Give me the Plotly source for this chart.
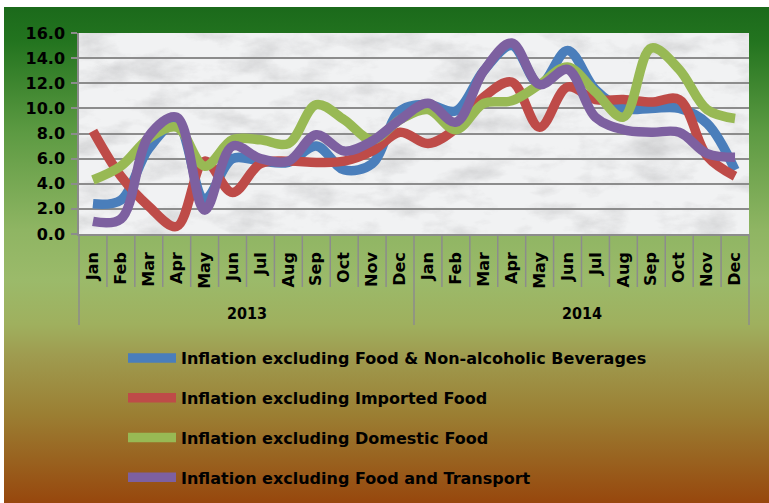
import base64
import plotly.graph_objects as go

# ---------------- data ----------------
months = ["Jan", "Feb", "Mar", "Apr", "May", "Jun", "Jul", "Aug", "Sep", "Oct", "Nov", "Dec"]
years = ["2013", "2014"]

excl_food_nonalc = [2.4, 2.7, 6.8, 8.8, 2.8, 6.0, 5.8, 5.7, 7.0, 5.1, 5.6, 9.8,
                    10.3, 9.8, 13.0, 15.0, 11.9, 14.6, 11.5, 10.0, 10.0, 10.0, 8.8, 5.1]
excl_imported = [8.2, 4.6, 2.2, 0.6, 5.8, 3.3, 5.6, 5.8, 5.7, 5.8, 6.6, 8.1,
                 7.2, 8.4, 10.9, 12.1, 8.5, 11.7, 10.7, 10.7, 10.5, 10.7, 6.2, 4.6]
excl_domestic = [4.3, 5.4, 7.6, 8.5, 5.4, 7.5, 7.5, 7.2, 10.3, 9.1, 7.5, 9.1,
                 9.9, 8.3, 10.4, 10.6, 11.9, 13.3, 11.3, 9.3, 14.8, 13.1, 9.9, 9.2]
excl_food_transport = [1.0, 1.2, 7.8, 9.3, 1.9, 7.0, 6.0, 5.8, 7.9, 6.6, 7.4, 9.1,
                       10.4, 8.9, 13.0, 15.2, 11.9, 13.1, 9.3, 8.3, 8.1, 8.1, 6.4, 6.1]

series_names = [
    "Inflation excluding Food & Non-alcoholic Beverages",
    "Inflation excluding Imported Food",
    "Inflation excluding Domestic Food",
    "Inflation excluding Food and Transport",
]
series_values = [excl_food_nonalc, excl_imported, excl_domestic, excl_food_transport]
series_colors = ["#4a7ebb", "#be4b48", "#98b954", "#7d60a0"]

categories = [f"{m} {y}" for y in years for m in months]
cat_labels = [m for y in years for m in months]

# ---------------- geometry ----------------
W, H = 769, 503
ML, MR, MT, MB = 79, 20, 33, 269
PW, PH = W - ML - MR, H - MT - MB


def py(pix_y):
    """pixel y (from top of figure) -> paper y"""
    return (MT + PH - pix_y) / PH


def px(pix_x):
    return (pix_x - ML) / PW


FONT = "DejaVu Sans"

fig = go.Figure()
for name, vals, col in zip(series_names, series_values, series_colors):
    fig.add_trace(go.Scatter(
        x=categories, y=vals, name=name, mode="lines",
        line=dict(color=col, width=9.5, shape="spline", smoothing=1.0),
        legendgroup=name,
    ))

# background gradient (figure) as svg image
stops = [
    (0.00, "#1b6a1b"), (0.07, "#23741f"), (0.25, "#5c9a42"), (0.45, "#8fb563"),
    (0.55, "#9bba6a"), (0.64, "#9fb05e"), (0.70, "#9f9c50"), (0.82, "#9b7f33"),
    (1.00, "#97470d"),
]
stop_xml = "".join(f'<stop offset="{o}" stop-color="{c}"/>' for o, c in stops)
grad_svg = (f'<svg xmlns="http://www.w3.org/2000/svg" width="765" height="496" preserveAspectRatio="none">'
            f'<defs><linearGradient id="g" x1="0" y1="0" x2="0" y2="1">{stop_xml}</linearGradient></defs>'
            f'<rect width="765" height="496" fill="url(#g)"/></svg>')
marble_svg = ('<svg xmlns="http://www.w3.org/2000/svg" width="670" height="201" preserveAspectRatio="none">'
              '<defs><filter id="f" x="0" y="0" width="100%" height="100%">'
              '<feTurbulence type="fractalNoise" baseFrequency="0.02 0.04" numOctaves="5" seed="11"/>'
              '<feColorMatrix type="matrix" values="0 0 0 0 0.35  0 0 0 0 0.35  0 0 0 0 0.36  1.5 0 0 0 -0.68"/>'
              '</filter></defs>'
              '<rect width="670" height="201" fill="#f1f2f3"/>'
              '<rect width="670" height="201" filter="url(#f)" opacity="0.55"/></svg>')


def data_uri(svg):
    return "data:image/svg+xml;base64," + base64.b64encode(svg.encode()).decode()


fig.add_layout_image(dict(source=data_uri(grad_svg), xref="paper", yref="paper",
                          x=px(4), y=py(7), sizex=765 / PW, sizey=496 / PH,
                          xanchor="left", yanchor="top", sizing="stretch", layer="below"))
fig.add_layout_image(dict(source=data_uri(marble_svg), xref="paper", yref="paper",
                          x=0, y=1, sizex=1, sizey=1,
                          xanchor="left", yanchor="top", sizing="stretch", layer="below"))

# category dividers
n = len(categories)
for i in range(n + 1):
    outer = (i % len(months) == 0)
    fig.add_shape(type="line", xref="paper", yref="paper",
                  x0=i / n, x1=i / n, y0=0, y1=py(325 if outer else 287),
                  line=dict(color="#8c8c8c", width=1.5), layer="above")

# year labels
for k, yr in enumerate(years):
    fig.add_annotation(text=yr, xref="paper", yref="paper",
                       x=(k * len(months) + len(months) / 2) / n, y=py(313),
                       showarrow=False, xanchor="center", yanchor="middle",
                       font=dict(family="DejaVu Sans Condensed, DejaVu Sans", size=16,
                                 color="black", weight="bold"))

fig.update_layout(
    width=W, height=H,
    margin=dict(l=ML, r=MR, t=MT, b=MB, autoexpand=False),
    paper_bgcolor="white", plot_bgcolor="white",
    showlegend=True,
    legend=dict(
        x=px(123), y=py(341), xanchor="left", yanchor="top",
        orientation="v", bgcolor="rgba(0,0,0,0)",
        font=dict(family=FONT, size=16, color="black", weight="bold"),
        tracegroupgap=16, itemwidth=48,
    ),
    xaxis=dict(
        type="category", categoryorder="array", categoryarray=categories,
        tickmode="array", tickvals=categories, ticktext=cat_labels,
        tickangle=-90, ticks="outside", ticklen=10, tickcolor="rgba(0,0,0,0)",
        showline=True, linecolor="#8c8c8c", linewidth=1.5,
        showgrid=False, zeroline=False, automargin=False,
        tickfont=dict(family=FONT, size=16, color="black", weight="bold"),
        range=[-0.5, n - 0.5], fixedrange=True,
    ),
    yaxis=dict(
        range=[0, 16], dtick=2, tick0=0, tickformat=".1f",
        showline=True, linecolor="#8c8c8c", linewidth=1.5,
        ticks="outside", ticklen=6, tickcolor="#8c8c8c", tickwidth=1.5,
        ticklabelstandoff=3, automargin=False,
        showgrid=True, gridcolor="#8c8c8c", gridwidth=1.5, zeroline=False,
        tickfont=dict(family=FONT, size=16, color="black", weight="bold"),
        fixedrange=True,
    ),
)

fig.write_html("out.html", post_script="document.body.style.margin='0';",
               config={"displayModeBar": False})
